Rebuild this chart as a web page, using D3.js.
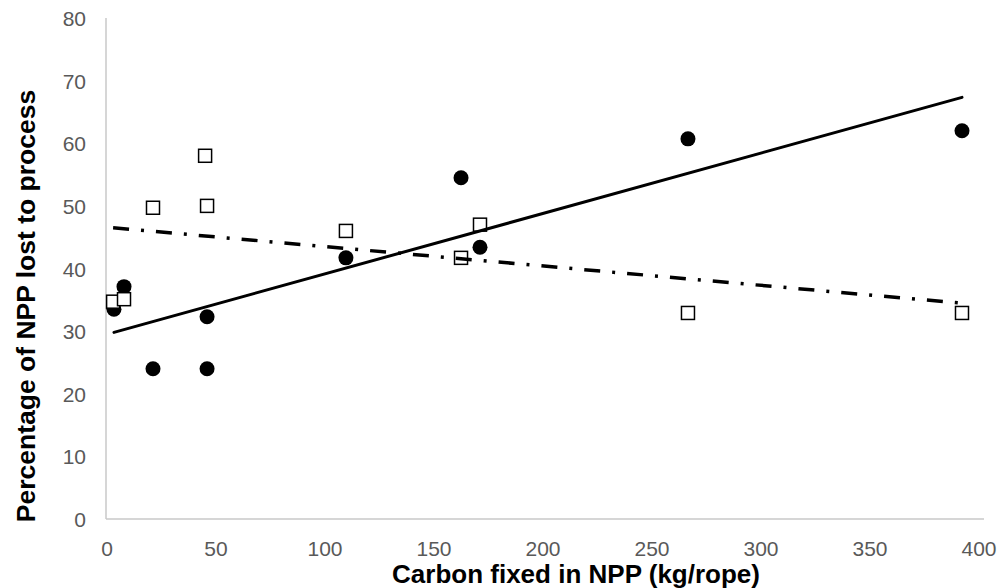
<!DOCTYPE html>
<html>
<head>
<meta charset="utf-8">
<script src="https://d3js.org/d3.v7.min.js"></script>
<style>
  body { margin: 0; background: #fff; }
  text { font-family: "Liberation Sans", Arial, sans-serif; }
</style>
</head>
<body>
<script>
// filled circles series
const circleX = [3.2, 7.8, 21.1, 45.9, 45.9, 109.6, 162.4, 171.1, 266.5, 392.2];
const circleY = [33.5, 37.1, 24.0, 24.0, 32.3, 41.7, 54.5, 43.4, 60.7, 62.0];
// open squares series
const squareX = [2.8, 7.8, 21.1, 45.0, 45.9, 109.6, 162.4, 171.1, 266.5, 392.2];
const squareY = [34.7, 35.1, 49.7, 58.0, 50.0, 46.0, 41.7, 47.0, 32.9, 32.9];

const xTicks = [0, 50, 100, 150, 200, 250, 300, 350, 400];
const yTicks = [0, 10, 20, 30, 40, 50, 60, 70, 80];

const width = 1004, height = 588;
const margin = { top: 18, right: 25, bottom: 69, left: 107 };

const svg = d3.select("body").append("svg")
    .attr("width", width)
    .attr("height", height);

const x = d3.scaleLinear().domain([0, 400]).range([margin.left, width - margin.right]);
const y = d3.scaleLinear().domain([0, 80]).range([height - margin.bottom, margin.top]);

// axes lines
svg.append("line")
    .attr("x1", x(0) - 1).attr("x2", x(400) + 5)
    .attr("y1", y(0)).attr("y2", y(0))
    .attr("stroke", "#c8c8c8").attr("stroke-width", 1.5);
svg.append("line")
    .attr("x1", x(0) - 1).attr("x2", x(0) - 1)
    .attr("y1", y(0)).attr("y2", y(80))
    .attr("stroke", "#c8c8c8").attr("stroke-width", 1.5);

// tick labels
svg.selectAll(".xt").data(xTicks).enter().append("text")
    .attr("x", d => x(d)).attr("y", y(0) + 37)
    .attr("text-anchor", "middle")
    .attr("font-size", "21px").attr("fill", "#595959")
    .text(d => d);
svg.selectAll(".yt").data(yTicks).enter().append("text")
    .attr("x", 86).attr("y", d => y(d) + 8)
    .attr("text-anchor", "end")
    .attr("font-size", "21px").attr("fill", "#595959")
    .text(d => d);

// axis titles
svg.append("text")
    .attr("x", 576).attr("y", 583)
    .attr("text-anchor", "middle")
    .attr("font-size", "26px").attr("font-weight", "bold")
    .text("Carbon fixed in NPP (kg/rope)");
svg.append("text")
    .attr("transform", "translate(35,306) rotate(-90)")
    .attr("text-anchor", "middle")
    .attr("font-size", "26.5px").attr("font-weight", "bold")
    .text("Percentage of NPP lost to process");

// markers
const circles = circleX.map((v, i) => ({ x: v, y: circleY[i] }));
const squares = squareX.map((v, i) => ({ x: v, y: squareY[i] }));

svg.selectAll(".c").data(circles).enter().append("circle")
    .attr("cx", d => x(d.x)).attr("cy", d => y(d.y))
    .attr("r", 7.5).attr("fill", "#000");

const s = 13;
svg.selectAll(".s").data(squares).enter().append("rect")
    .attr("x", d => x(d.x) - s / 2).attr("y", d => y(d.y) - s / 2)
    .attr("width", s).attr("height", s)
    .attr("fill", "#fff").attr("stroke", "#000").attr("stroke-width", 1.5);

// linear trendlines
function fit(pts) {
    const mx = d3.mean(pts, d => d.x), my = d3.mean(pts, d => d.y);
    const b = d3.sum(pts, d => (d.x - mx) * (d.y - my)) / d3.sum(pts, d => (d.x - mx) ** 2);
    const a = my - b * mx;
    const x0 = d3.min(pts, d => d.x), x1 = d3.max(pts, d => d.x);
    return [[x0, a + b * x0], [x1, a + b * x1]];
}
const line = d3.line().x(d => x(d[0])).y(d => y(d[1]));

svg.append("path").datum(fit(circles))
    .attr("d", line).attr("fill", "none")
    .attr("stroke", "#000").attr("stroke-width", 3).attr("stroke-linecap", "round");
svg.append("path").datum(fit(squares))
    .attr("d", line).attr("fill", "none")
    .attr("stroke", "#000").attr("stroke-width", 3.5)
    .attr("stroke-dasharray", "16,12,3,12");
</script>
</body>
</html>
